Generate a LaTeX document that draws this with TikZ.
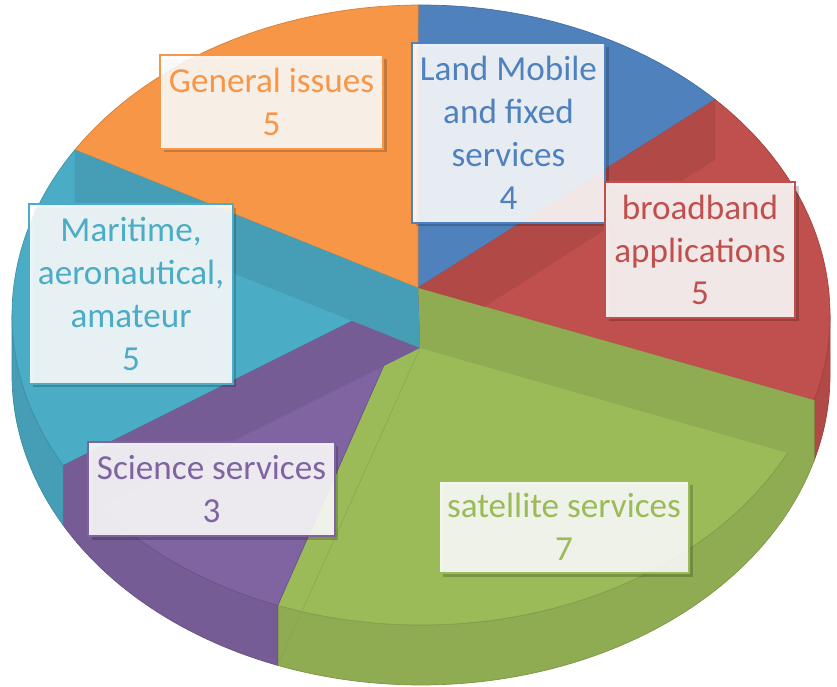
\documentclass[tikz,border=0pt]{standalone}
\usepackage{fontspec}
\setmainfont{Carlito}
\usepackage{tikz}
\usetikzlibrary{shadows}
\definecolor{sliceblue}{HTML}{4F81BD}
\definecolor{slicered}{HTML}{C0504D}
\definecolor{slicegreen}{HTML}{9BBB59}
\definecolor{slicepurple}{HTML}{8064A2}
\definecolor{sliceteal}{HTML}{4BACC6}
\definecolor{sliceorange}{HTML}{F79646}
\tikzset{
    rim/.style={x radius=409, y radius=310},
    slicetop/.style={fill=#1, draw=#1!85!black, line width=0.4pt},
    slicewall/.style={fill=#1!92!black, draw=#1!80!black, line width=0.4pt},
    sliceband/.style={fill=#1!92!black},
    datalabel/.style={rectangle, draw=#1, line width=1.2pt, fill=white, fill opacity=0.88, text opacity=1, text=#1, align=center, inner sep=0pt, font=\fontsize{20}{24.4}\selectfont, drop shadow={shadow xshift=2pt, shadow yshift=-2pt, opacity=0.2, fill=black}}
}

\begin{document}
\begin{tikzpicture}[x=0.02cm, y=0.02cm]
    \useasboundingbox (0,0) rectangle (837,686);

    % centre of the pie and points on the rim
    \coordinate (ctr) at (421,371);
    \coordinate (apex) at (418,398);
    \coordinate (apexlow) at (420,338);
    \path (ctr) ++(90.4:409 and 310) coordinate (b0);
    \path (ctr) ++(44:409 and 310) coordinate (b1);
    \path (ctr) ++(-16:409 and 310) coordinate (b2);
    \path (ctr) ++(-110.5:409 and 310) coordinate (b3);
    \path (ctr) ++(-151:409 and 310) coordinate (b4);
    \path (ctr) ++(147.8:409 and 310) coordinate (b5);
    \path (ctr) ++(0:409 and 310) coordinate (rimR);
    \path (b3) ++(0,-60) coordinate (b3low);

    % Side walls
    \draw[slicewall=slicered] (rimR) arc[rim, start angle=0, end angle=-16] -- ++(0,-60) arc[rim, start angle=-16, end angle=0] -- cycle;
    \draw[slicewall=slicegreen] (b2) arc[rim, start angle=-16, end angle=-110.5] -- ++(0,-60) arc[rim, start angle=-110.5, end angle=-16] -- cycle;
    \draw[slicewall=slicepurple] (b3) arc[rim, start angle=-110.5, end angle=-151] -- ++(0,-60) arc[rim, start angle=-151, end angle=-110.5] -- cycle;
    \draw[slicewall=sliceteal] (b4) arc[rim, start angle=-151, end angle=-180] -- ++(0,-60) arc[rim, start angle=-180, end angle=-151] -- cycle;

    % Top faces
    \draw[slicetop=sliceblue] (apex) -- (b0) arc[rim, start angle=90.4, end angle=44] -- cycle;
    \draw[slicetop=slicered] (apex) -- (b1) arc[rim, start angle=44, end angle=-16] -- cycle;
    \draw[slicetop=slicegreen] (apex) -- (b2) arc[rim, start angle=-16, end angle=-110.5] -- cycle;
    \draw[slicetop=slicepurple] (apex) -- (b3) arc[rim, start angle=-110.5, end angle=-151] -- cycle;
    \draw[slicetop=sliceteal] (apex) -- (b4) arc[rim, start angle=-151, end angle=-212.2] -- cycle;
    \draw[slicetop=sliceorange] (apex) -- (b5) arc[rim, start angle=147.8, end angle=90.4] -- cycle;

    % Cut faces seen through the top
    \fill[sliceband=slicered] (apex) -- (b1) -- ++(0,-60) -- (apexlow) -- cycle;
    \fill[sliceband=slicegreen] (apex) -- (b2) -- ++(0,-60) -- (apexlow) -- cycle;
    \fill[sliceband=slicepurple] (apex) -- (b4) -- ++(0,-60) -- (apexlow) -- cycle;
    \fill[sliceband=sliceteal] (apex) -- (b5) -- ++(0,-60) -- (apexlow) -- cycle;
    \draw[slicegreen!88!black, line width=0.3pt] (apexlow) -- (b3low);

    % Data labels
    \node (general) [datalabel=sliceorange, minimum width=4.46cm, minimum height=1.88cm] at (271.5,584) {General issues\\5};
    \node (landmobile) [datalabel=sliceblue, minimum width=3.86cm, minimum height=3.6cm] at (508.5,553) {Land Mobile\\and fixed\\services\\4};
    \node (broadband) [datalabel=slicered, minimum width=3.8cm, minimum height=2.72cm] at (700,436) {broadband\\applications\\5};
    \node (maritime) [datalabel=sliceteal, minimum width=4.08cm, minimum height=3.6cm] at (131,392) {Maritime,\\aeronautical,\\amateur\\5};
    \node (science) [datalabel=slicepurple, minimum width=4.94cm, minimum height=1.88cm] at (211.5,197) {Science services\\3};
    \node (satellite) [datalabel=slicegreen, minimum width=5cm, minimum height=1.84cm] at (564,159) {satellite services\\7};

\end{tikzpicture}
\end{document}
